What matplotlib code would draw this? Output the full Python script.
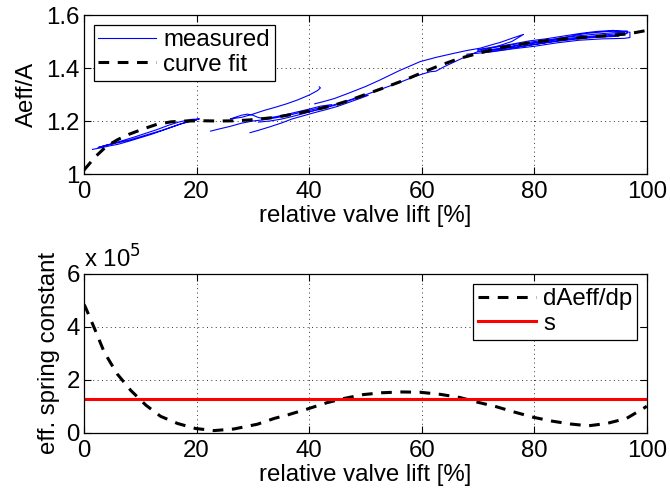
import matplotlib
matplotlib.use("Agg")
import matplotlib.pyplot as plt
from matplotlib.ticker import FuncFormatter

plt.rcParams['font.family'] = ['Liberation Sans', 'DejaVu Sans']
FS = 17.3

# measured effective area ratio, several hysteresis passes (lift %, Aeff/A)
lift_a = [1.5, 3, 4.5, 6, 8, 10, 12, 14, 16, 18, 19.5, 20.5, 19, 17, 15, 13, 11, 9, 7, 5, 3.5, 2.5, 4, 6, 8, 11, 14, 17, 19, 20]
area_a = [1.093, 1.099, 1.106, 1.112, 1.124, 1.137, 1.150, 1.165, 1.180, 1.195, 1.204, 1.208, 1.206, 1.197, 1.184, 1.168,
          1.154, 1.140, 1.127, 1.115, 1.106, 1.100, 1.109, 1.118, 1.128, 1.147, 1.166, 1.188, 1.199, 1.203]

lift_b = [22.5, 24, 26, 28, 30, 32, 34, 36, 38, 40, 42, 44, 42, 40, 38, 36, 34, 32, 31, 30, 29, 28, 27, 26,
          28, 30, 32, 33, 34, 36, 38, 40, 41.5, 42, 41.8]
area_b = [1.162, 1.170, 1.180, 1.192, 1.200, 1.205, 1.212, 1.220, 1.230, 1.240, 1.250, 1.262, 1.256, 1.245, 1.235, 1.225,
          1.216, 1.210, 1.213, 1.222, 1.226, 1.222, 1.215, 1.208, 1.214, 1.226, 1.240, 1.246, 1.252, 1.265, 1.280, 1.298,
          1.315, 1.325, 1.329]

lift_c = [29.5, 31, 33, 35, 37, 39, 41, 43, 45, 47, 49, 50.5, 49, 47, 45, 43, 41, 39, 37, 35, 33, 31]
area_c = [1.156, 1.165, 1.178, 1.192, 1.208, 1.220, 1.232, 1.243, 1.255, 1.270, 1.285, 1.297, 1.293, 1.278, 1.265, 1.252,
          1.240, 1.228, 1.217, 1.207, 1.200, 1.196]

lift_d = [40, 42, 45, 48, 50.8, 53, 56, 59, 61.5, 62.5, 64, 66, 68, 70, 72, 74, 76, 78.1,
          76, 74, 72, 70.4, 68, 65.6, 62.5, 59.7, 56, 52.6, 50, 47, 44.5, 42.5, 41]
area_d = [1.235, 1.245, 1.262, 1.283, 1.305, 1.322, 1.345, 1.370, 1.386, 1.388, 1.405, 1.425, 1.445, 1.462, 1.474, 1.486,
          1.500, 1.527, 1.512, 1.497, 1.485, 1.475, 1.466, 1.455, 1.440, 1.424, 1.390, 1.355, 1.330, 1.305, 1.285, 1.273, 1.265]

lift_e = [68, 72, 76, 80, 84, 88, 92, 96, 97, 97, 94, 91, 88, 85, 82, 79, 76, 73, 70,
          70, 74, 78, 82, 86, 90, 94, 96.5, 96.5, 93, 89, 86, 83, 80, 77, 74, 71]
area_e = [1.452, 1.460, 1.472, 1.482, 1.495, 1.505, 1.510, 1.512, 1.515, 1.535, 1.542, 1.538, 1.530, 1.520, 1.510, 1.502,
          1.490, 1.480, 1.470, 1.462, 1.475, 1.490, 1.500, 1.512, 1.520, 1.528, 1.530, 1.540, 1.538, 1.530, 1.518, 1.506,
          1.495, 1.485, 1.470, 1.465]

lift_f = [70, 73, 76, 79, 82, 85, 88, 91, 94, 96, 96, 93, 90, 87, 84, 81, 78, 75, 72, 71, 75, 79, 83, 87, 91, 95]
area_f = [1.468, 1.478, 1.488, 1.497, 1.505, 1.514, 1.522, 1.528, 1.533, 1.535, 1.525, 1.522, 1.518, 1.512, 1.503, 1.492,
          1.482, 1.476, 1.466, 1.458, 1.470, 1.486, 1.498, 1.508, 1.516, 1.520]

# polynomial curve fit of the area ratio
fit_lift = [0, 2, 4, 6, 8, 10.5, 13, 15.5, 18, 21, 24, 27, 30, 34, 37, 40, 44, 47, 50, 53.5, 57, 60, 63, 66.5, 70, 73,
            76, 79.5, 83, 86.5, 90, 93, 96, 98, 100]
fit_area = [1.015, 1.065, 1.105, 1.130, 1.150, 1.170, 1.188, 1.197, 1.200, 1.201, 1.200, 1.201, 1.205, 1.214, 1.225, 1.238,
            1.257, 1.277, 1.300, 1.327, 1.355, 1.382, 1.408, 1.435, 1.455, 1.472, 1.484, 1.496, 1.506, 1.512, 1.518,
            1.522, 1.528, 1.534, 1.542]

# effective spring constant from the fit derivative, and constant s
spring_lift = [0, 0.3, 1.8, 3.6, 5.9, 8.3, 11, 13.6, 16.6, 19.8, 23.1, 26.6, 30.8, 33.8, 36.3, 39.6, 43.1, 46.1, 49.6,
               52.9, 56.5, 59.7, 63.3, 66.8, 69.8, 73.3, 76.3, 79.9, 83.1, 86.4, 89.6, 92.9, 96.4, 99.4, 100]
spring_val = [4.85e5, 4.72e5, 3.97e5, 3.04e5, 2.22e5, 1.60e5, 1.04e5, 0.62e5, 0.35e5, 0.16e5, 0.08e5, 0.14e5, 0.32e5,
              0.54e5, 0.68e5, 0.89e5, 1.13e5, 1.29e5, 1.44e5, 1.51e5, 1.54e5, 1.53e5, 1.45e5, 1.33e5, 1.16e5, 0.98e5,
              0.79e5, 0.58e5, 0.44e5, 0.33e5, 0.26e5, 0.35e5, 0.54e5, 0.92e5, 1.0e5]
s_value = 1.26e5

fig = plt.figure(figsize=(6.7, 4.93), dpi=100)
ax1 = fig.add_axes([0.1254, 0.647, 0.840, 0.3225])
ax2 = fig.add_axes([0.1254, 0.1223, 0.840, 0.322])

dash = (3.5, 2.8)
segments = [(lift_a, area_a), (lift_b, area_b), (lift_c, area_c), (lift_d, area_d),
            (lift_e, area_e), (lift_f, area_f)]
for i, (lx, ay) in enumerate(segments):
    ax1.plot(lx, ay, color='#0000ff', lw=0.8, label='measured' if i == 0 else None)
ax1.plot(fit_lift, fit_area, color='black', lw=2.2, linestyle=(0, dash), label='curve fit')

ax2.plot(spring_lift, spring_val, color='black', lw=2.2, linestyle=(0, dash), label='dAeff/dp')
ax2.plot([0, 100], [s_value, s_value], color='#ff0000', lw=2.2, label='s')

ax1.set_xlim(0, 100)
ax1.set_ylim(1.0, 1.6)
ax1.set_yticks([1.0, 1.2, 1.4, 1.6])
ax1.set_yticklabels(['1', '1.2', '1.4', '1.6'])
ax1.set_ylabel('Aeff/A', fontsize=FS, labelpad=6)

ax2.set_xlim(0, 100)
ax2.set_ylim(0, 6e5)
ax2.set_yticks([0, 2e5, 4e5, 6e5])
ax2.yaxis.set_major_formatter(FuncFormatter(lambda v, p: '%g' % (v / 1e5)))
ax2.set_ylabel('eff. spring constant', fontsize=FS, labelpad=5)
ax2.text(0.0, 1.01, 'x 10$^{5}$', transform=ax2.transAxes, fontsize=FS, ha='left', va='bottom')

for ax in (ax1, ax2):
    ax.set_xticks([0, 20, 40, 60, 80, 100])
    ax.set_xlabel('relative valve lift [%]', fontsize=FS, labelpad=1.5)
    ax.tick_params(direction='in', top=True, right=True, labelsize=FS, length=5, width=0.8)
    ax.tick_params(axis='x', pad=5)
    ax.tick_params(axis='y', pad=3)
    ax.grid(True, linestyle=(0, (1, 3.5)), color='#333333', lw=0.7)
    for sp in ax.spines.values():
        sp.set_linewidth(0.9)

leg1 = ax1.legend(loc='upper left', fontsize=FS, frameon=True, fancybox=False, handlelength=2.4,
                  borderpad=0.2, labelspacing=0.1, handletextpad=0.3, borderaxespad=0.4)
leg2 = ax2.legend(loc='upper right', fontsize=FS, frameon=True, fancybox=False, handlelength=2.4,
                  borderpad=0.2, labelspacing=0.1, handletextpad=0.3, borderaxespad=0.4)
for leg in (leg1, leg2):
    leg.get_frame().set_edgecolor('black')
    leg.get_frame().set_linewidth(0.9)
    leg.get_frame().set_alpha(1)

fig.savefig('out.png', dpi=100)
